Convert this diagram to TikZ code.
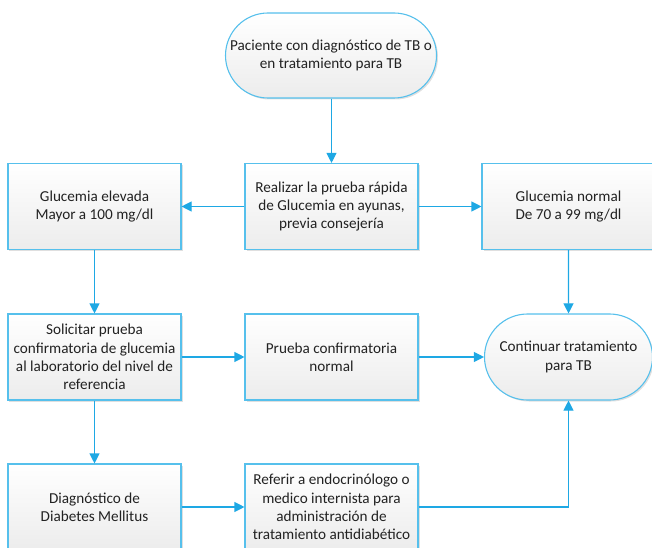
\documentclass[tikz,border=0pt]{standalone}
\usepackage{fontspec}
\setmainfont{Carlito}
\usetikzlibrary{arrows.meta,shapes.misc,shadows}
\definecolor{edgeblue}{RGB}{86,192,236}
\definecolor{arrowblue}{RGB}{30,168,228}
\definecolor{boxbottom}{RGB}{236,236,236}
\definecolor{txt}{RGB}{34,34,34}
\tikzset{
  base/.style={draw=edgeblue, line width=1.1bp, top color=white, bottom color=boxbottom,
    text=txt, align=center, inner sep=2bp,
    font=\fontsize{15.2bp}{18.3bp}\selectfont,
    drop shadow={shadow xshift=1.5bp, shadow yshift=-1.5bp, opacity=0.25, fill=gray}},
  procbox/.style={base, rectangle, minimum width=173bp, minimum height=86bp},
  termbox/.style={base, rounded rectangle, minimum height=85bp},
  arr/.style={draw=arrowblue, line width=1.1bp, -{Triangle[length=10bp,width=10bp]}}
}
\begin{document}
\begin{tikzpicture}[x=1bp, y=-1bp]
\useasboundingbox (0,0) rectangle (652,548);

\node[termbox, minimum width=215bp] (start) at (331,55.5)
  {Paciente con diagnóstico de TB o\\en tratamiento para TB};

\node[procbox] (elev) at (94.5,206.5) {Glucemia elevada\\Mayor a 100 mg/dl};
\node[procbox] (rapida) at (331.5,206.5)
  {Realizar la prueba rápida\\de Glucemia en ayunas,\\previa consejería};
\node[procbox] (normal) at (568.5,206.5) {Glucemia normal\\De 70 a 99 mg/dl};

\node[procbox] (solicitar) at (94.5,357)
  {Solicitar prueba\\confirmatoria de glucemia\\al laboratorio del nivel de\\referencia};
\node[procbox] (confnormal) at (331.5,357) {Prueba confirmatoria\\normal};
\node[termbox, minimum width=172bp, minimum height=86bp] (continuar) at (568.5,357)
  {Continuar tratamiento\\para TB};

\node[procbox] (diag) at (94.5,507) {Diagnóstico de\\Diabetes Mellitus};
\node[procbox] (referir) at (331.5,507)
  {Referir a endocrinólogo o\\medico internista para\\administración de\\tratamiento antidiabético};

\draw[arr] (start.south -| rapida.north) -- (rapida.north);
\draw[arr] (rapida) -- (elev);
\draw[arr] (rapida) -- (normal);
\draw[arr] (elev) -- (solicitar);
\draw[arr] (normal) -- (continuar);
\draw[arr] (solicitar) -- (confnormal);
\draw[arr] (confnormal) -- (continuar);
\draw[arr] (solicitar) -- (diag);
\draw[arr] (diag) -- (referir);
\draw[arr] (referir.east) -| (continuar.south);
\end{tikzpicture}
\end{document}
